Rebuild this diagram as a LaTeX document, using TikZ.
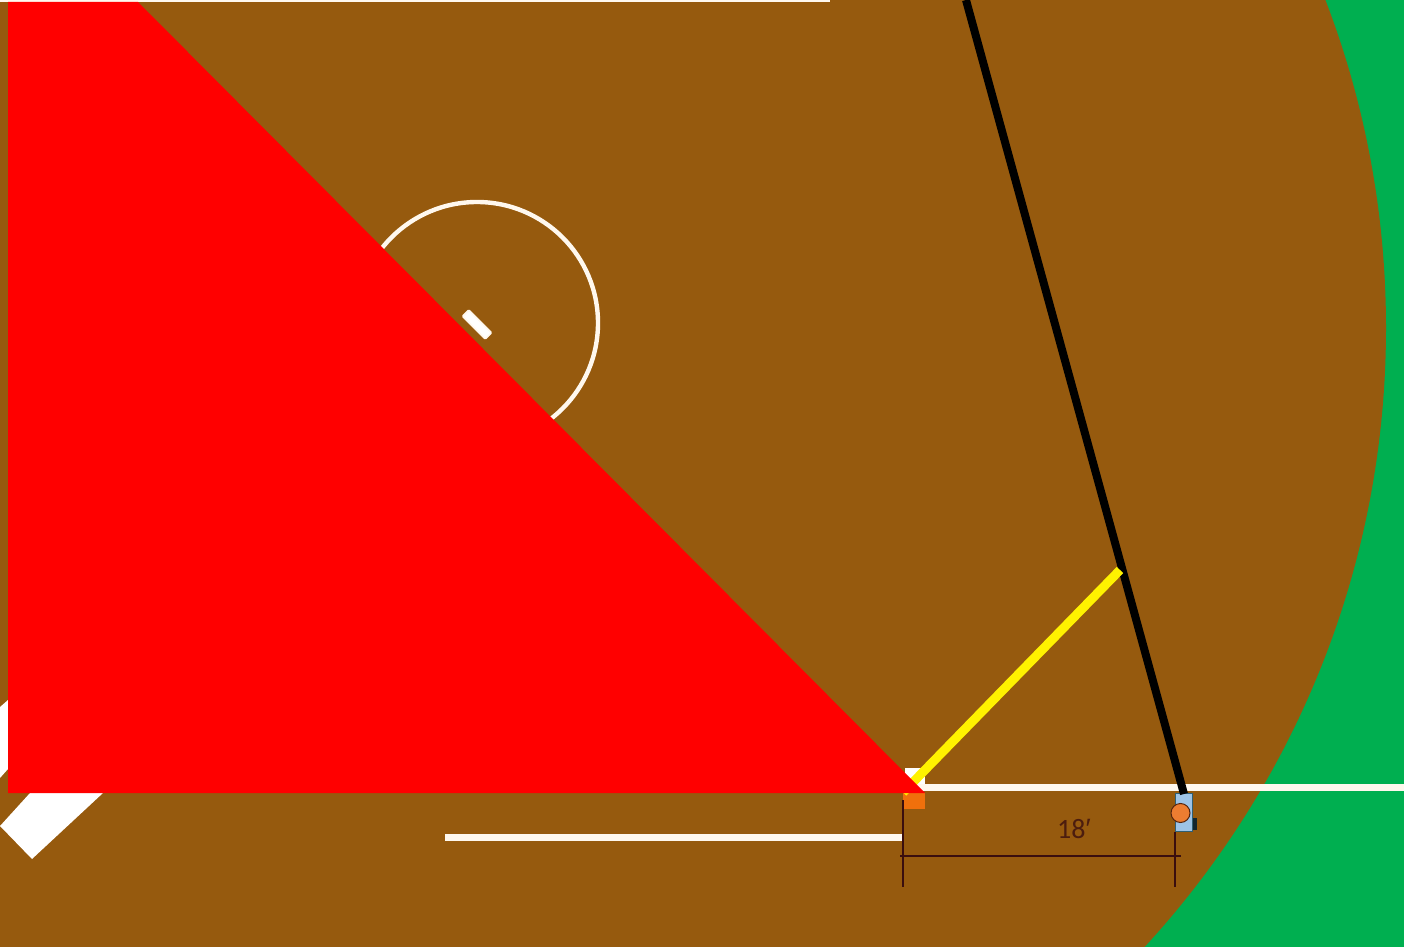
\documentclass[tikz,border=0pt]{standalone}
\usepackage{fontspec}
\setmainfont{Carlito}
\newfontfamily\primefont{Liberation Sans}
\usepackage{xcolor}
\usetikzlibrary{positioning,calc}
\definecolor{field}{HTML}{00AF50}
\definecolor{dirt}{HTML}{965A0E}
\definecolor{chalk}{HTML}{FFF8EE}
\definecolor{plate}{HTML}{9DC3E6}
\definecolor{platerim}{HTML}{2F5F73}
\definecolor{runner}{HTML}{ED7D31}
\definecolor{bag}{HTML}{F0700C}
\definecolor{dimink}{HTML}{3A0E0E}
\tikzset{chalkline/.style={draw=chalk,line cap=butt},dimline/.style={draw=dimink,line width=1.2pt},sightline/.style={draw=black,line width=4pt},reachline/.style={draw=yellow,line width=4.5pt}}

\begin{document}
\begin{tikzpicture}[x=.5pt,y=-.5pt]
\useasboundingbox (0,0) rectangle (1404,947);
\fill[field] (0,0) rectangle (1404,947);
\begin{scope}
\clip (0,0) rectangle (1404,947);
\fill[dirt] (472,328) circle (914);
\end{scope}
% chalk
\coordinate (topL) at (0,1);
\coordinate (topR) at (830,1);
\draw[chalkline,line width=1.5pt] (topL)--(topR);
\draw[chalkline,line width=2.2pt] (477,323) circle (121);
\node[draw=chalk,fill=white,line width=.8pt,rounded corners=.5pt,minimum width=16pt,minimum height=4.5pt,inner sep=0pt,rotate=-45] (rubber) at (477,324.5) {};
\fill[white] (0,707)--(8,700)--(8,769)--(0,778)--cycle;
\fill[white] (0,826)--(32,859)--(103,793)--(30,793)--cycle;
\coordinate (farL) at (445,837.5);
\coordinate (farR) at (902,837.5);
\draw[chalkline,line width=3.2pt] (farL)--(farR);
\fill[white] (905,768) rectangle (925,787);
\coordinate (foulL) at (905,787);
\coordinate (foulR) at (1404,787);
\draw[chalkline,line width=3.5pt] (foulL)--(foulR);
\fill[bag] (903,793) rectangle (925,809);
% dimension
\coordinate (dimA) at (903,800);
\coordinate (dimAb) at (903,887);
\coordinate (dimB) at (1175,832);
\coordinate (dimBb) at (1175,887);
\draw[dimline] (dimA)--(dimAb);
\draw[dimline] (dimB)--(dimBb);
\draw[dimline] (900,856)--(1181,856);
\node[text=dimink!80!dirt,font=\fontsize{14}{14}\selectfont,inner sep=0pt] (dimtext) at (1074,829) {18{\primefont ′}};
% batter
\fill[black!60!platerim] (1192,818) rectangle (1197,830);
\node[draw=platerim,fill=plate,line width=.9pt,minimum width=8.5pt,minimum height=19pt,inner sep=0pt] (box) at (1184,812.5) {};
\node[circle,draw=dimink!70!dirt,fill=runner,line width=.5pt,minimum size=9.5pt,inner sep=0pt] (batter) at (1180.5,813) {};
\coordinate (sightT) at (966,0);
\coordinate (sightB) at (1184,794);
\coordinate (reachA) at (903,792.5);
\coordinate (reachB) at (1120,570);
\draw[sightline] (sightT)--(sightB);
\draw[reachline] (reachA)--(reachB);
\fill[red] (8,2)--(138,2)--(925,793)--(8,793)--cycle;
\end{tikzpicture}
\end{document}
